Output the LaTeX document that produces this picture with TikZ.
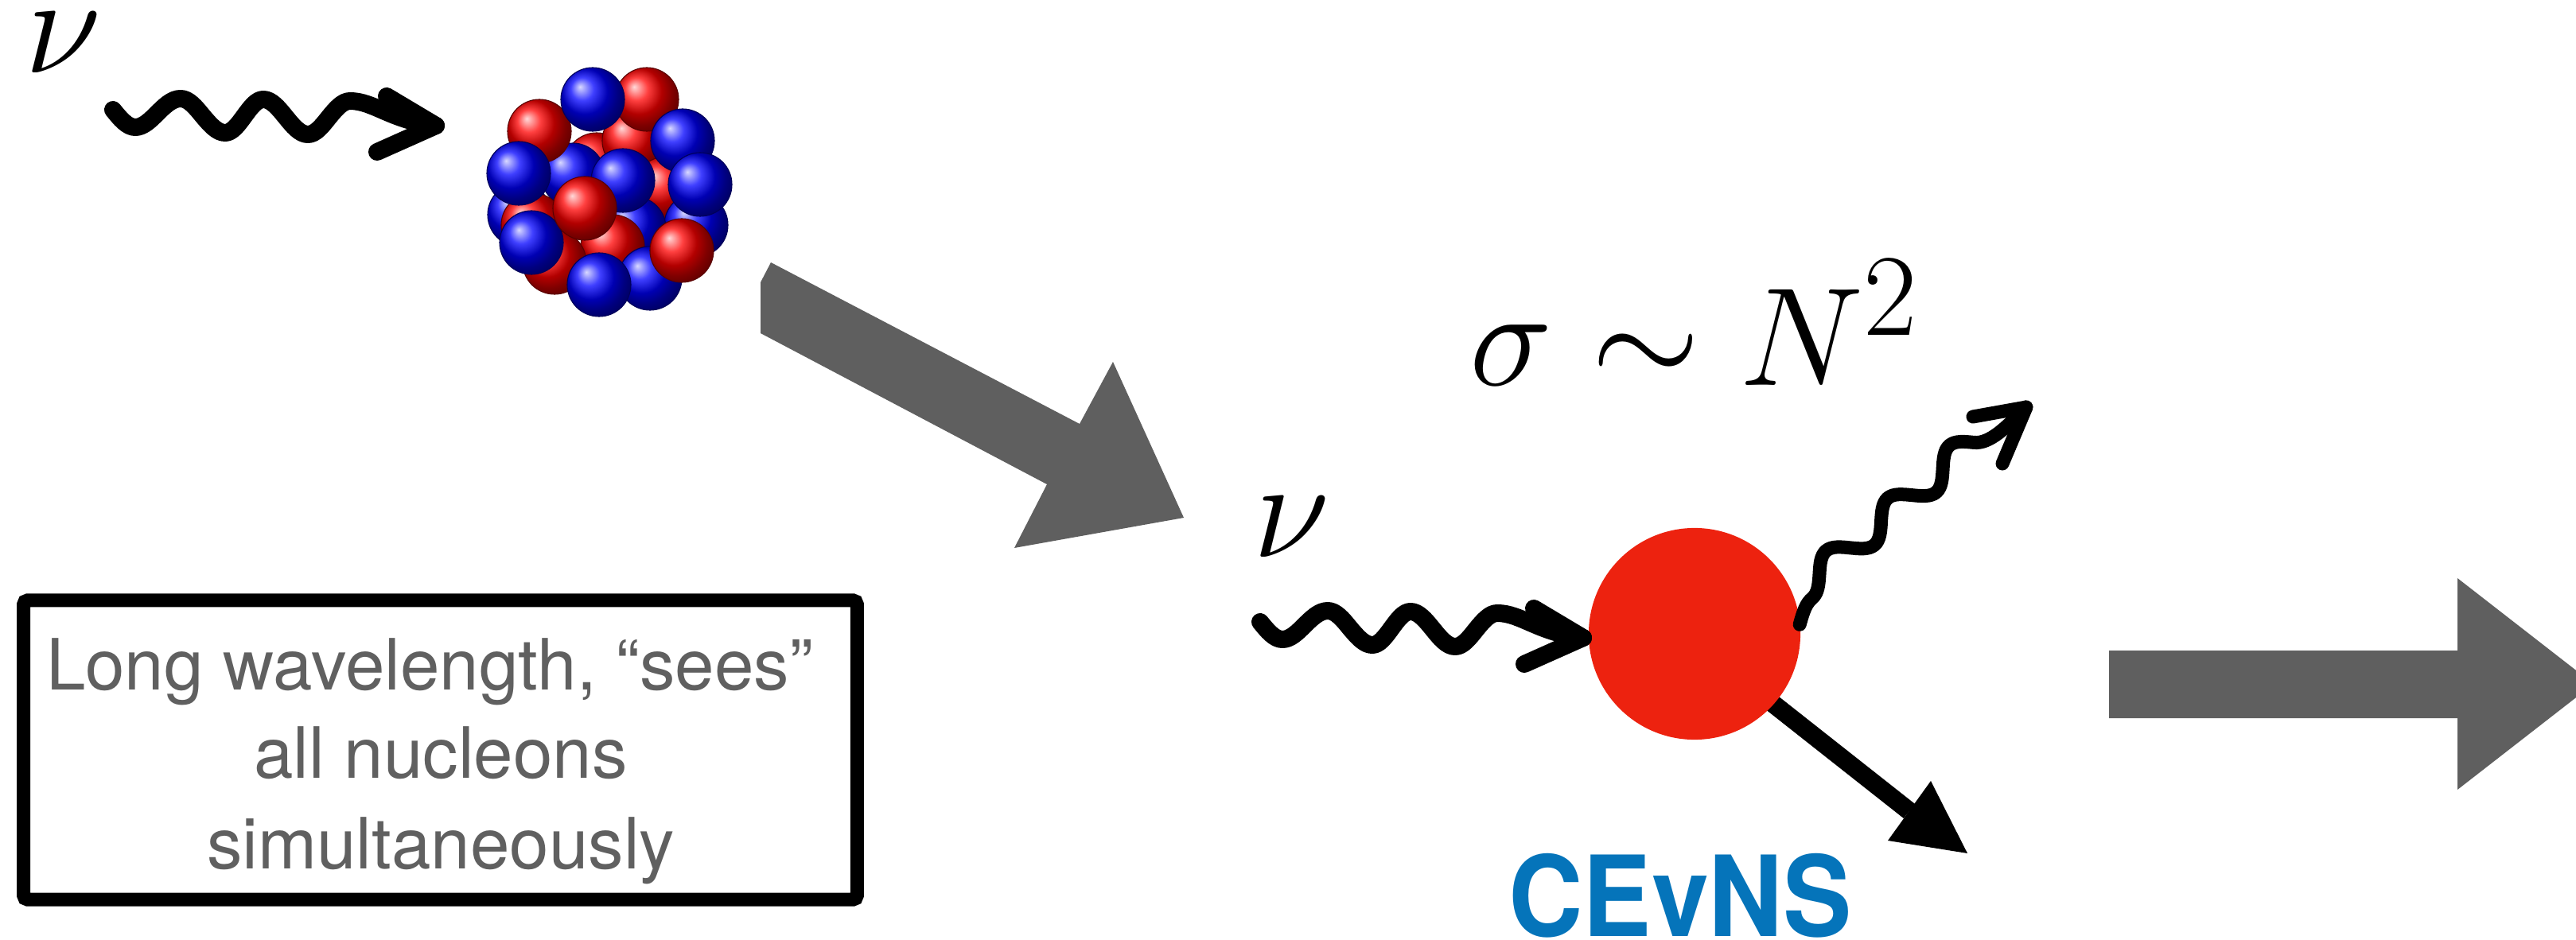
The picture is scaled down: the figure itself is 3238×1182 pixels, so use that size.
\documentclass[tikz,border=0pt]{standalone}
\usepackage{fontspec}
\usepackage{graphicx}
\newfontfamily\heros{TeX Gyre Heros}
\usetikzlibrary{calc}

\definecolor{arrowgray}{RGB}{95,95,95}
\definecolor{textgray}{RGB}{96,96,96}
\definecolor{blobred}{RGB}{237,34,15}
\definecolor{cevnsblue}{RGB}{5,116,186}

\pgfdeclarelayer{bg}
\pgfsetlayers{bg,main}

% large math: set at \Huge and enlarged
\newcommand\bigmath[1]{\scalebox{2.01}{$#1$}}

\tikzset{
  bigarrow/.style={fill=arrowgray},
  nuline/.style={line width=0.22cm, line cap=round, line join=round},
  outline/.style={line width=0.17cm, line cap=round, line join=round},
  mathlbl/.style={inner sep=0pt, font=\Huge},
  boxtext/.style={inner sep=0pt, text=textgray, font=\heros\fontsize{25.3}{31}\selectfont},
  notebox/.style={draw, line width=0.17cm, rounded corners=0.05cm,
    minimum width=10.47cm, minimum height=3.76cm, inner sep=0pt},
  blob/.style={circle, fill=blobred, minimum size=2.66cm, inner sep=0pt},
  recoil/.style={line width=0.23cm},
  nucr/.style={ball color=red, draw=red!35!black, line width=0.3pt},
  nucb/.style={ball color=blue, draw=blue!35!black, line width=0.3pt},
  % incoming neutrino: wiggly line with an open chevron head
  nuwave/.pic={
    \draw[nuline] (0,0) sin (28,22) cos (55,5) sin (85,-14) cos (113,8)
      sin (141,29) cos (165,8) sin (189,-13) cos (217,9) sin (245,31)
      cos (271,10) sin (298,-11) .. controls (328,-11) and (350,14) .. (406,20);
    \draw[nuline] (344,-17) -- (406,20) -- (332,53);
  }
}

\begin{document}
\begin{tikzpicture}[x=0.01cm, y=-0.01cm]
  \useasboundingbox (0,0) rectangle (3238,1182);
  \clip (0,0) rectangle (3238,1182);

  % ---- nucleus made of protons and neutrons ----
  \foreach \c/\x/\y in {r/750/207, r/797/177, b/720/220, r/837/237, b/653/270,
      r/670/283, b/875/283, b/797/287, r/770/310, r/697/330, b/817/350,
      r/678/165, r/813/125, b/745/125, b/858/177, b/652/218, b/783/227,
      b/880/232, b/668/305, r/735/262, r/857/315, b/753/358}
    \shadedraw[nuc\c] (\x,\y) circle[radius=0.4cm];
  \coordinate (nucleus) at (767,242);

  % ---- incoming neutrino on the nucleus ----
  \node[mathlbl, anchor=base west] (nu1) at (31,92) {\bigmath{\nu}};
  \coordinate (src1) at (142,138);
  \pic at (src1) {nuwave};

  % ---- big grey transition arrows ----
  \fill[bigarrow] (969,330) -- (1357,533) -- (1399,455) -- (1488,651)
    -- (1275,689) -- (1316,609) -- (956,419) -- (956,355) -- cycle;
  \fill[bigarrow] (2651,818) -- (3089,818) -- (3089,727) -- (3260,860)
    -- (3089,993) -- (3089,903) -- (2651,903) -- cycle;

  % ---- explanation box ----
  \node[notebox] (note) at (553.5,943) {};
  \node[boxtext, anchor=base] (l1) at (540,867) {Long wavelength, “sees”};
  \node[boxtext, anchor=base] (l2) at (554,978) {all nucleons};
  \node[boxtext, anchor=base] (l3) at (554,1092) {simultaneously};

  % ---- coherent scattering ----
  \node[mathlbl, anchor=base west] (xsec) at (1847,485) {\bigmath{\sigma\sim N^2}};
  \node[mathlbl, anchor=base west] (nu2) at (1575,700) {\bigmath{\nu}};
  \node[blob] (blob) at (2130,797) {};

  % recoiling nucleus
  \coordinate (rbase) at (2400,1020);
  \coordinate (rtip) at (2473,1073);
  \begin{pgfonlayer}{bg}
    \draw[recoil] ($(blob.center)!0.5!(blob.-45)$) -- (rbase);
  \end{pgfonlayer}
  \fill (rtip) -- (2427,982) -- (2373,1057) -- cycle;

  % incoming neutrino
  \coordinate (src2) at (1584,782);
  \pic at (src2) {nuwave};

  % outgoing neutrino
  \coordinate (w3tip) at (2547,512);
  \begin{scope}[shift={(2287,722)}, rotate=40.5]
    \draw[outline] (-60,32) .. controls (-45,22) and (-37,17) .. (-26,17)
      cos (0,0) sin (25.5,-17) cos (51,0) sin (76.5,17) cos (102,0)
      sin (127.5,-17) cos (153,0) sin (178.5,17) cos (204,0)
      sin (229.5,-17) cos (255,0) .. controls (269,15) and (300,12) .. (334,9);
  \end{scope}
  \draw[outline] (2480,524) -- (w3tip) -- (2517,583);

  \node[inner sep=0pt, anchor=base, text=cevnsblue,
        font=\heros\bfseries\fontsize{40}{48}\selectfont] (cevns) at (2112,1177)
        {\scalebox{0.92}[1]{CEvNS}};
\end{tikzpicture}
\end{document}
